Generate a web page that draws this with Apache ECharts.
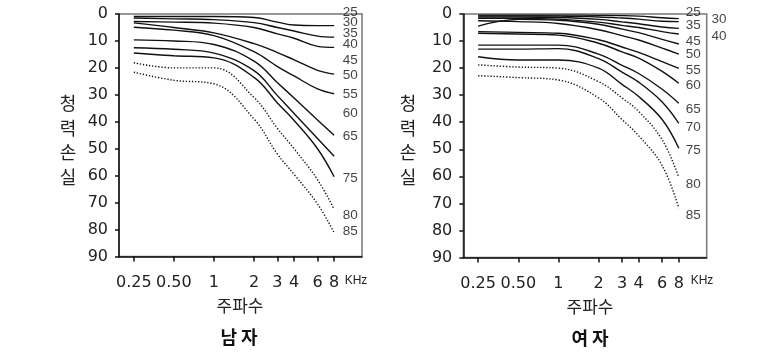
<!DOCTYPE html>
<html><head><meta charset="utf-8">
<script src="https://cdn.jsdelivr.net/npm/echarts@6/dist/echarts.min.js"></script>
<style>html,body{margin:0;padding:0;background:#fff}#c{width:780px;height:360px}</style>
</head><body><div id="c"></div>
<script>
// ---- data ----
const freqs = [0.25, 0.5, 1, 2, 3, 4, 6, 8];
const freqTickLabels = ['0.25', '0.50', '1', '2', '3', '4', '6', '8'];

// 남자 (male) – hearing loss in dB at each frequency
const maleSolid = [
  [0.9, 0.9, 0.9, 1.3, 3.0, 4.1, 4.3, 4.3],
  [1.5, 1.8, 2.1, 3.2, 5.0, 6.3, 8.2, 8.6],
  [2.8, 3.0, 3.4, 5.0, 7.4, 9.0, 12.0, 12.4],
  [3.3, 5.0, 7.0, 11.0, 14.3, 17.0, 20.9, 22.3],
  [4.9, 6.0, 8.0, 14.0, 19.5, 23.0, 27.8, 29.6],
  [9.6, 10.0, 11.3, 17.5, 25.5, 31.2, 39.3, 45.0],
  [12.5, 13.1, 14.5, 21.0, 30.3, 36.9, 46.2, 52.8],
  [14.5, 15.5, 16.3, 23.5, 33.0, 39.5, 50.0, 60.4]
];
const maleDotted = [
  [18.1, 20.0, 20.0, 31.0, 42.5, 50.0, 61.5, 72.5],
  [21.6, 24.6, 25.9, 39.0, 52.0, 59.5, 70.5, 81.2]
];
const maleLabelText = ['25', '30', '35', '40', '45', '50', '55', '60', '65', '75', '80', '85'];
const maleLabelDb   = [-0.7, 3.0, 7.3, 11.4, 17.0, 22.8, 29.8, 36.7, 45.4, 60.9, 74.6, 80.6];

// 여자 (female)
const femSolid = [
  [0.4, 0.4, 0.4, 0.5, 0.6, 0.8, 1.4, 1.7],
  [0.7, 0.7, 0.8, 1.1, 1.5, 1.9, 2.7, 2.8],
  [1.1, 1.1, 1.3, 2.0, 2.9, 3.6, 4.8, 5.3],
  [1.6, 1.6, 1.9, 3.0, 4.2, 5.0, 6.5, 7.4],
  [4.5, 2.0, 2.3, 3.8, 5.6, 6.9, 9.4, 11.1],
  [2.5, 2.8, 3.5, 5.8, 8.0, 9.6, 12.6, 14.8],
  [6.5, 6.8, 7.1, 9.5, 12.2, 14.2, 17.6, 20.1],
  [7.1, 7.4, 7.8, 10.8, 14.0, 16.3, 21.2, 25.6],
  [11.5, 11.5, 11.5, 14.8, 19.0, 22.0, 27.8, 33.0],
  [13.0, 13.0, 12.8, 16.5, 21.5, 25.2, 32.5, 40.4],
  [15.8, 17.0, 17.0, 20.0, 26.0, 30.5, 39.0, 49.6]
];
const femDotted = [
  [18.8, 19.6, 20.0, 25.0, 31.0, 36.0, 46.5, 60.4],
  [22.8, 23.5, 24.4, 31.0, 39.0, 45.0, 56.0, 71.8]
];
const femLabelText = ['25', '35', '45', '50', '55', '60', '65', '70', '75', '80', '85'];
const femLabelDb   = [-0.5, 4.1, 10.2, 14.8, 20.7, 26.5, 35.1, 41.9, 50.5, 62.8, 74.3];
const femOuterLabelText = ['30', '40'];
const femOuterLabelDb   = [1.95, 8.4];

// ---- chart ----
const lx = freqs.map(f => Math.log2(f));
const pts = arr => arr.map((v, i) => [lx[i], v]);
const xmin = -2.37, xmax = 3.695;
const ink = '#111';
const fmtX = v => { const i = lx.findIndex(t => Math.abs(t - v) < 1e-6); return i >= 0 ? freqTickLabels[i] : ''; };

function xAxis(g) {
  return {
    type: 'value', gridIndex: g, min: xmin, max: xmax,
    axisLine: { show: true, onZero: false, lineStyle: { color: ink, width: 1.5 } },
    axisTick: { show: true, customValues: lx, length: 5, lineStyle: { color: ink, width: 1.5 } },
    axisLabel: { customValues: lx, formatter: fmtX, fontFamily: 'DejaVu Sans', fontSize: 16, color: '#222', margin: 18 },
    splitLine: { show: false }
  };
}
function yAxis(g) {
  return {
    type: 'value', gridIndex: g, inverse: true, min: 0, max: 90, interval: 10,
    axisLine: { show: true, onZero: false, lineStyle: { color: ink, width: 1.5 } },
    axisTick: { show: true, length: 4, lineStyle: { color: ink, width: 1.5 } },
    axisLabel: { fontFamily: 'DejaVu Sans', fontSize: 16, color: '#222', margin: 11 },
    splitLine: { show: false }
  };
}
function lineSeries(g, arr, dotted) {
  return {
    type: 'line', xAxisIndex: g, yAxisIndex: g, data: pts(arr),
    smooth: 0.4, showSymbol: false, silent: true,
    lineStyle: dotted ? { color: ink, width: 1.4, type: [1.3, 1.8] } : { color: ink, width: 1.4 }
  };
}
function labelSeries(g, texts, dbs, xpos) {
  return {
    type: 'scatter', xAxisIndex: g, yAxisIndex: g, clip: false, silent: true,
    symbolSize: 0.1, itemStyle: { color: 'rgba(0,0,0,0)' },
    label: { show: true, position: 'inside', formatter: '{b}', fontFamily: 'Liberation Sans', fontSize: 13.5, color: '#111' },
    data: texts.map((t, i) => ({ name: t, value: [xpos, dbs[i]] }))
  };
}

const series = [];
maleSolid.forEach(a => series.push(lineSeries(0, a, false)));
maleDotted.forEach(a => series.push(lineSeries(0, a, true)));
femSolid.forEach(a => series.push(lineSeries(1, a, false)));
femDotted.forEach(a => series.push(lineSeries(1, a, true)));
series.push(labelSeries(0, maleLabelText, maleLabelDb, 3.40));
series.push(labelSeries(1, femLabelText, femLabelDb, 3.36));
series.push(labelSeries(1, femOuterLabelText, femOuterLabelDb, 4.0));

const txt = (text, x, y, o) => ({ type: 'text', x, y, style: Object.assign({ text, fill: '#222', textAlign: 'center', textVerticalAlign: 'middle', fontFamily: 'Noto Sans CJK KR', fontSize: 17 }, o || {}) });

const option = {
  animation: false,
  backgroundColor: '#fff',
  grid: [
    { left: 119, top: 14, width: 243, height: 242.5, show: true, borderColor: '#777', borderWidth: 1.5, containLabel: false },
    { left: 463.3, top: 14, width: 243.4, height: 243.5, show: true, borderColor: '#777', borderWidth: 1.5, containLabel: false }
  ],
  xAxis: [xAxis(0), xAxis(1)],
  yAxis: [yAxis(0), yAxis(1)],
  series,
  graphic: [
    txt('청\n력\n손\n실', 68, 140, { lineHeight: 24.5, fontSize: 18 }),
    txt('청\n력\n손\n실', 408, 140, { lineHeight: 24.5, fontSize: 18 }),
    txt('주파수', 240, 306),
    txt('주파수', 590, 307),
    txt('남 자', 239, 337, { fontWeight: 'bold', fontSize: 18, fill: '#111' }),
    txt('여 자', 590, 338, { fontWeight: 'bold', fontSize: 18, fill: '#111' }),
    txt('KHz', 356, 281, { fontFamily: 'Liberation Sans Narrow, Liberation Sans', fontSize: 12 }),
    txt('KHz', 702, 281, { fontFamily: 'Liberation Sans Narrow, Liberation Sans', fontSize: 12 })
  ]
};
const chart = echarts.init(document.getElementById('c'), null, { renderer: 'canvas' });
chart.setOption(option);
</script>
</body></html>
